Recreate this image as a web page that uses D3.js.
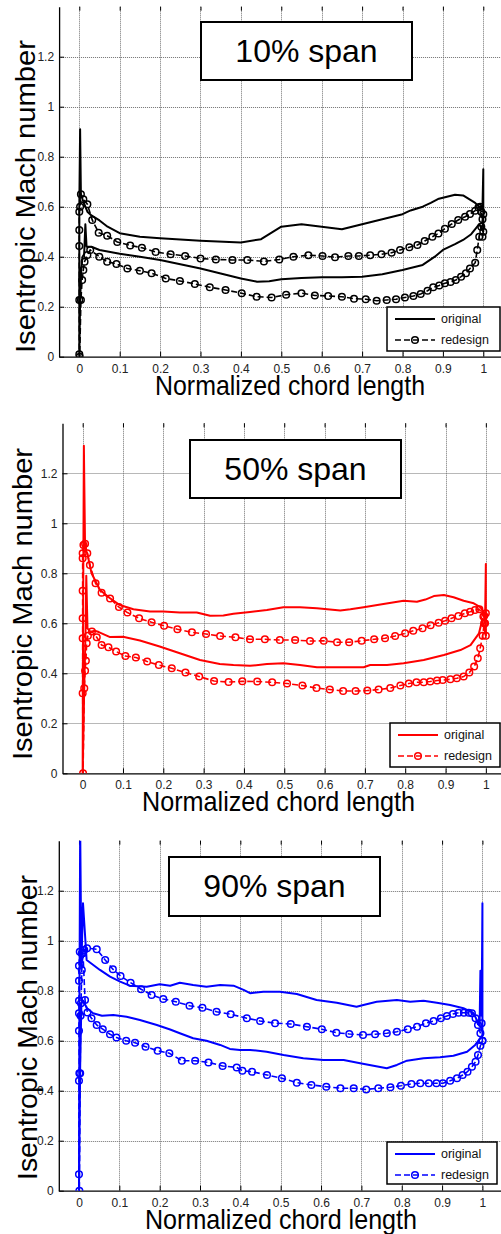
<!DOCTYPE html>
<html><head><meta charset="utf-8">
<script src="https://cdn.jsdelivr.net/npm/d3@7"></script>
<style>
html,body{margin:0;padding:0;background:#fff;}
svg{display:block;font-family:"Liberation Sans",Arial,sans-serif;}
</style></head>
<body>
<svg id="chart" width="501" height="1234"></svg>
<script>
// ---------- data ----------
const xTicks = [0,0.1,0.2,0.3,0.4,0.5,0.6,0.7,0.8,0.9,1];
const xTickLabels = ["0","0.1","0.2","0.3","0.4","0.5","0.6","0.7","0.8","0.9","1"];
const yTicks = [0,0.2,0.4,0.6,0.8,1,1.2];
const yTickLabels = ["0","0.2","0.4","0.6","0.8","1","1.2"];
const titles = ["10% span","50% span","90% span"];
const legendNames = ["original","redesign"];
const colors = ["#000000","#ff0000","#0000ff"];

const span10Original = [[1.0,0.50],[1.0,0.75],[0.998,0.60],[0.99,0.60],[0.98,0.615],[0.97,0.625],[0.95,0.645],[0.93,0.648],[0.91,0.64],[0.89,0.632],[0.87,0.615],[0.85,0.60],[0.82,0.585],[0.8,0.57],[0.75,0.55],[0.7,0.53],[0.65,0.51],[0.6,0.52],[0.55,0.53],[0.5,0.52],[0.47,0.49],[0.45,0.47],[0.4,0.457],[0.3,0.464],[0.2,0.474],[0.15,0.48],[0.1,0.494],[0.07,0.52],[0.05,0.545],[0.03,0.565],[0.02,0.58],[0.01,0.62],[0.004,0.65],[0.002,0.91],[0.0,0.6],[0.0,0.2],[0.0,0.0],[0.002,0.22],[0.005,0.35],[0.008,0.40],[0.012,0.41],[0.015,0.53],[0.018,0.44],[0.03,0.44],[0.05,0.427],[0.1,0.412],[0.15,0.40],[0.2,0.387],[0.25,0.37],[0.3,0.353],[0.35,0.333],[0.4,0.313],[0.44,0.30],[0.47,0.302],[0.5,0.31],[0.55,0.315],[0.6,0.318],[0.65,0.318],[0.7,0.32],[0.75,0.33],[0.8,0.347],[0.85,0.367],[0.88,0.4],[0.9,0.427],[0.93,0.45],[0.95,0.467],[0.97,0.49],[0.98,0.51],[0.99,0.53],[1.0,0.5]];

const span10Redesign = [[0.998,0.48],[1.0,0.50],[0.998,0.55],[0.995,0.58],[0.992,0.60],[0.988,0.597],[0.98,0.584],[0.967,0.571],[0.955,0.56],[0.938,0.547],[0.922,0.531],[0.905,0.512],[0.889,0.493],[0.874,0.48],[0.855,0.463],[0.837,0.447],[0.817,0.438],[0.794,0.427],[0.773,0.416],[0.748,0.41],[0.72,0.406],[0.692,0.403],[0.666,0.403],[0.633,0.398],[0.602,0.403],[0.567,0.406],[0.53,0.40],[0.495,0.389],[0.457,0.381],[0.416,0.387],[0.379,0.387],[0.338,0.389],[0.30,0.393],[0.262,0.403],[0.226,0.41],[0.189,0.419],[0.155,0.436],[0.126,0.445],[0.094,0.459],[0.069,0.484],[0.048,0.496],[0.032,0.547],[0.02,0.61],[0.01,0.63],[0.004,0.65],[0.002,0.60],[0.0,0.58],[0.0,0.507],[0.0,0.443],[0.0,0.227],[0.0,0.01],[0.001,0.0],[0.004,0.227],[0.007,0.307],[0.01,0.347],[0.013,0.38],[0.02,0.407],[0.027,0.427],[0.0495,0.40],[0.069,0.38],[0.092,0.371],[0.119,0.353],[0.15,0.344],[0.179,0.334],[0.214,0.313],[0.249,0.303],[0.286,0.291],[0.323,0.278],[0.362,0.267],[0.402,0.254],[0.439,0.24],[0.476,0.237],[0.512,0.248],[0.55,0.254],[0.583,0.245],[0.616,0.243],[0.65,0.24],[0.68,0.232],[0.709,0.23],[0.736,0.224],[0.761,0.227],[0.784,0.23],[0.806,0.237],[0.827,0.243],[0.845,0.251],[0.862,0.264],[0.876,0.278],[0.891,0.285],[0.905,0.294],[0.919,0.299],[0.932,0.307],[0.945,0.32],[0.957,0.334],[0.967,0.353],[0.98,0.376],[0.985,0.427],[0.99,0.48],[0.995,0.52],[1.0,0.57]];

const span50Original = [[1.0,0.55],[1.0,0.837],[0.998,0.60],[0.995,0.64],[0.987,0.664],[0.97,0.68],[0.945,0.69],[0.92,0.704],[0.896,0.713],[0.871,0.709],[0.85,0.695],[0.829,0.686],[0.796,0.69],[0.746,0.677],[0.697,0.664],[0.664,0.656],[0.639,0.651],[0.581,0.66],[0.539,0.664],[0.498,0.664],[0.457,0.653],[0.415,0.645],[0.374,0.638],[0.349,0.631],[0.316,0.63],[0.283,0.643],[0.241,0.643],[0.2,0.647],[0.167,0.647],[0.126,0.656],[0.092,0.673],[0.068,0.70],[0.043,0.733],[0.022,0.80],[0.0115,0.88],[0.006,0.90],[0.003,1.31],[0.001,0.60],[0.0,0.0],[0.004,0.35],[0.007,0.55],[0.009,0.79],[0.012,0.58],[0.02,0.565],[0.03,0.57],[0.04,0.565],[0.068,0.545],[0.1,0.546],[0.142,0.531],[0.191,0.507],[0.241,0.48],[0.291,0.453],[0.34,0.437],[0.374,0.433],[0.415,0.43],[0.457,0.437],[0.498,0.44],[0.539,0.433],[0.581,0.424],[0.639,0.424],[0.697,0.424],[0.713,0.433],[0.755,0.433],[0.796,0.44],[0.846,0.453],[0.896,0.473],[0.937,0.493],[0.962,0.513],[0.983,0.56],[0.991,0.613],[1.0,0.55]];

const span50Redesign = [[1.0,0.55],[0.998,0.60],[0.996,0.63],[0.994,0.627],[0.984,0.656],[0.973,0.653],[0.961,0.646],[0.948,0.64],[0.932,0.629],[0.915,0.62],[0.899,0.61],[0.883,0.602],[0.863,0.592],[0.843,0.58],[0.82,0.57],[0.80,0.56],[0.775,0.549],[0.75,0.54],[0.723,0.536],[0.692,0.53],[0.661,0.524],[0.631,0.524],[0.598,0.53],[0.564,0.529],[0.527,0.533],[0.489,0.533],[0.452,0.536],[0.415,0.536],[0.379,0.544],[0.341,0.549],[0.306,0.557],[0.271,0.564],[0.235,0.576],[0.202,0.59],[0.171,0.604],[0.14,0.62],[0.111,0.643],[0.09,0.665],[0.068,0.699],[0.047,0.722],[0.032,0.76],[0.018,0.833],[0.0115,0.88],[0.006,0.918],[0.002,0.913],[0.0,0.88],[0.0,0.86],[0.0,0.73],[0.0,0.62],[0.0,0.54],[0.0,0.32],[0.001,0.0],[0.004,0.34],[0.006,0.41],[0.008,0.45],[0.01,0.52],[0.013,0.55],[0.023,0.567],[0.035,0.544],[0.047,0.513],[0.064,0.504],[0.083,0.487],[0.106,0.469],[0.132,0.463],[0.16,0.447],[0.189,0.433],[0.221,0.42],[0.255,0.403],[0.289,0.387],[0.326,0.369],[0.362,0.365],[0.396,0.368],[0.433,0.367],[0.47,0.364],[0.507,0.359],[0.545,0.351],[0.58,0.341],[0.613,0.335],[0.646,0.329],[0.677,0.329],[0.706,0.331],[0.734,0.335],[0.763,0.341],[0.788,0.351],[0.809,0.359],[0.828,0.364],[0.846,0.364],[0.862,0.367],[0.879,0.371],[0.893,0.373],[0.912,0.376],[0.928,0.38],[0.945,0.387],[0.959,0.403],[0.971,0.427],[0.98,0.46],[0.986,0.50],[0.992,0.55],[0.996,0.60],[1.0,0.64]];

const span90Original = [[1.0,0.62],[1.0,1.15],[0.998,0.70],[0.995,0.88],[0.993,0.66],[0.99,0.67],[0.978,0.71],[0.953,0.73],[0.92,0.743],[0.887,0.752],[0.854,0.76],[0.821,0.756],[0.788,0.763],[0.738,0.756],[0.705,0.743],[0.688,0.736],[0.639,0.752],[0.589,0.763],[0.54,0.787],[0.498,0.796],[0.457,0.796],[0.424,0.79],[0.408,0.803],[0.383,0.82],[0.35,0.823],[0.316,0.816],[0.283,0.823],[0.25,0.832],[0.226,0.82],[0.2,0.826],[0.168,0.816],[0.126,0.82],[0.102,0.836],[0.077,0.856],[0.052,0.883],[0.019,0.923],[0.01,1.15],[0.006,0.90],[0.003,1.45],[0.001,0.70],[0.0,0.0],[0.003,0.50],[0.006,0.75],[0.01,0.76],[0.02,0.73],[0.035,0.71],[0.057,0.70],[0.085,0.703],[0.118,0.696],[0.151,0.683],[0.193,0.663],[0.226,0.645],[0.25,0.63],[0.283,0.61],[0.316,0.60],[0.35,0.583],[0.374,0.567],[0.399,0.563],[0.424,0.563],[0.465,0.556],[0.507,0.543],[0.556,0.53],[0.606,0.523],[0.656,0.523],[0.697,0.51],[0.73,0.50],[0.763,0.49],[0.788,0.503],[0.813,0.52],[0.854,0.53],[0.895,0.534],[0.928,0.54],[0.962,0.556],[0.982,0.583],[0.995,0.61],[1.0,0.62]];

const span90Redesign = [[1.0,0.60],[0.998,0.67],[0.995,0.63],[0.989,0.663],[0.983,0.69],[0.974,0.71],[0.966,0.712],[0.954,0.712],[0.941,0.712],[0.927,0.707],[0.912,0.699],[0.897,0.69],[0.879,0.679],[0.86,0.67],[0.838,0.656],[0.815,0.646],[0.788,0.636],[0.763,0.63],[0.734,0.626],[0.704,0.623],[0.67,0.627],[0.638,0.632],[0.602,0.646],[0.565,0.656],[0.525,0.667],[0.486,0.67],[0.449,0.679],[0.416,0.69],[0.376,0.706],[0.341,0.716],[0.306,0.732],[0.274,0.74],[0.24,0.756],[0.209,0.767],[0.18,0.783],[0.154,0.806],[0.128,0.832],[0.103,0.859],[0.084,0.886],[0.065,0.923],[0.044,0.966],[0.02,0.97],[0.013,0.963],[0.007,0.95],[0.002,0.956],[0.0,0.90],[0.0,0.84],[0.0,0.76],[0.0,0.71],[0.0,0.64],[0.001,0.47],[0.0,0.44],[0.0,0.066],[0.001,0.0],[0.003,0.47],[0.004,0.70],[0.005,0.75],[0.007,0.883],[0.01,0.95],[0.015,0.763],[0.021,0.713],[0.031,0.69],[0.044,0.663],[0.059,0.646],[0.077,0.626],[0.093,0.613],[0.117,0.60],[0.139,0.592],[0.165,0.576],[0.195,0.56],[0.224,0.55],[0.255,0.52],[0.288,0.52],[0.321,0.513],[0.356,0.499],[0.391,0.493],[0.405,0.48],[0.429,0.476],[0.466,0.463],[0.503,0.45],[0.54,0.432],[0.576,0.423],[0.613,0.416],[0.648,0.41],[0.681,0.41],[0.712,0.405],[0.742,0.41],[0.772,0.414],[0.798,0.42],[0.824,0.427],[0.846,0.43],[0.867,0.43],[0.886,0.43],[0.902,0.43],[0.92,0.44],[0.937,0.45],[0.951,0.463],[0.963,0.476],[0.974,0.496],[0.983,0.516],[0.989,0.543],[0.995,0.58],[1.0,0.60]];

const originals = [span10Original, span50Original, span90Original];
const redesigns = [span10Redesign, span50Redesign, span90Redesign];

// ---------- layout ----------
const layouts = [
  {x0:59.1, x1:503.5, yb:356.7, yt:6.7, title:[201,22,211,58], leg:[387,307,113,44],
   xl:[155,425,395], yl:[35,196.5,313]},
  {x0:62.5, x1:506, yb:773.3, yt:423.3, title:[190,440,211,58], leg:[390,723,110,44],
   xl:[142,415,811], yl:[32,604,312]},
  {x0:58.8, x1:502.6, yb:1190.7, yt:840.7, title:[169,857,211,59], leg:[387,1142,110,42],
   xl:[145,417,1229], yl:[37,1027.5,305]}
];

const svg = d3.select("#chart");

layouts.forEach((L, i) => {
  const color = colors[i];
  const x = d3.scaleLinear().domain([-0.05, 1.05]).range([L.x0, L.x1]);
  const y = d3.scaleLinear().domain([0, 1.4]).range([L.yb, L.yt]);
  const g = svg.append("g");

  const clipId = "clip" + i;
  svg.append("clipPath").attr("id", clipId).append("rect")
    .attr("x", L.x0).attr("y", L.yt).attr("width", L.x1 - L.x0).attr("height", L.yb - L.yt);

  // grid
  g.append("g").selectAll("line").data(xTicks).join("line")
    .attr("x1", d => Math.round(x(d)) + 0.5).attr("x2", d => Math.round(x(d)) + 0.5)
    .attr("y1", L.yt).attr("y2", L.yb)
    .attr("stroke", "#707070").attr("stroke-width", 1).attr("stroke-dasharray", "1,1");
  g.append("g").selectAll("line").data(yTicks.filter(d => d > 0)).join("line")
    .attr("x1", L.x0).attr("x2", 501)
    .attr("y1", d => Math.round(y(d)) + 0.5).attr("y2", d => Math.round(y(d)) + 0.5)
    .attr("stroke", "#707070").attr("stroke-width", 1).attr("stroke-dasharray", "1,1");

  // axes
  const xAxis = d3.axisBottom(x).tickValues(xTicks).tickFormat((d, k) => xTickLabels[k])
    .tickSizeInner(-5).tickSizeOuter(0).tickPadding(7.5);
  const xa = g.append("g").attr("transform", `translate(0,${L.yb})`).call(xAxis);
  xa.select(".domain").attr("stroke", "#000").attr("stroke-width", 1.3);
  xa.selectAll(".tick line").attr("stroke", "#000");
  xa.selectAll("text").attr("font-size", 12).attr("fill", "#222")
    .attr("font-family", "'Liberation Sans',Arial,sans-serif");

  const xTop = d3.axisTop(x).tickValues(xTicks).tickFormat("").tickSizeInner(-4).tickSizeOuter(0);
  const xt = g.append("g").attr("transform", `translate(0,${L.yt})`).call(xTop);
  xt.select(".domain").remove();
  xt.selectAll(".tick line").attr("stroke", "#000");

  const yAxis = d3.axisLeft(y).tickValues(yTicks).tickFormat((d, k) => yTickLabels[k])
    .tickSizeInner(-5).tickSizeOuter(0).tickPadding(5);
  const ya = g.append("g").attr("transform", `translate(${L.x0},0)`).call(yAxis);
  ya.select(".domain").attr("stroke", "#000").attr("stroke-width", 1.3);
  ya.selectAll(".tick line").attr("stroke", "#000");
  ya.selectAll("text").attr("font-size", 12).attr("fill", "#222")
    .attr("font-family", "'Liberation Sans',Arial,sans-serif");

  // data
  const line = d3.line().x(d => x(d[0])).y(d => y(d[1]));
  const dg = g.append("g").attr("clip-path", `url(#${clipId})`);
  dg.append("path").datum(originals[i]).attr("d", line)
    .attr("fill", "none").attr("stroke", color).attr("stroke-width", 2).attr("stroke-linejoin", "round");
  dg.append("path").datum(redesigns[i]).attr("d", line)
    .attr("fill", "none").attr("stroke", color).attr("stroke-width", 1.6).attr("stroke-dasharray", "6,3");
  dg.append("g").selectAll("circle").data(redesigns[i]).join("circle")
    .attr("cx", d => x(d[0])).attr("cy", d => y(d[1])).attr("r", 3.3)
    .attr("fill", "none").attr("stroke", color).attr("stroke-width", 1.5);

  // title box
  const [tx, ty, tw, th] = L.title;
  g.append("rect").attr("x", tx).attr("y", ty).attr("width", tw).attr("height", th)
    .attr("fill", "#fff").attr("stroke", "#000").attr("stroke-width", 2);
  g.append("text").attr("x", tx + tw / 2).attr("y", ty + 40).attr("text-anchor", "middle")
    .attr("font-size", 32).attr("fill", "#000").text(titles[i]);

  // legend
  const [lx, ly, lw, lh] = L.leg;
  const lg = g.append("g");
  lg.append("rect").attr("x", lx).attr("y", ly).attr("width", lw).attr("height", lh)
    .attr("fill", "#fff").attr("stroke", "#000").attr("stroke-width", 1.5);
  lg.append("line").attr("x1", lx + 8).attr("x2", lx + 48).attr("y1", ly + 12).attr("y2", ly + 12)
    .attr("stroke", color).attr("stroke-width", 2);
  lg.append("line").attr("x1", lx + 8).attr("x2", lx + 48).attr("y1", ly + 33).attr("y2", ly + 33)
    .attr("stroke", color).attr("stroke-width", 1.6).attr("stroke-dasharray", "6,3");
  lg.append("circle").attr("cx", lx + 28).attr("cy", ly + 33).attr("r", 3.3)
    .attr("fill", "none").attr("stroke", color).attr("stroke-width", 1.5);
  lg.append("text").attr("x", lx + 54).attr("y", ly + 16).attr("font-size", 12.5).attr("fill", "#111").text(legendNames[0]);
  lg.append("text").attr("x", lx + 54).attr("y", ly + 37).attr("font-size", 12.5).attr("fill", "#111").text(legendNames[1]);

  // axis labels
  const [xa0, xa1, xby] = L.xl;
  g.append("text").attr("x", xa0).attr("y", xby).attr("font-size", 28)
    .attr("textLength", xa1 - xa0).attr("lengthAdjust", "spacingAndGlyphs")
    .attr("fill", "#000").text("Normalized chord length");
  const [ybx, ycy, ylen] = L.yl;
  g.append("text").attr("transform", `translate(${ybx},${ycy}) rotate(-90)`)
    .attr("x", -ylen / 2).attr("y", 0).attr("font-size", 28)
    .attr("textLength", ylen).attr("lengthAdjust", "spacingAndGlyphs")
    .attr("fill", "#000").text("Isentropic Mach number");
});
</script>
</body></html>
